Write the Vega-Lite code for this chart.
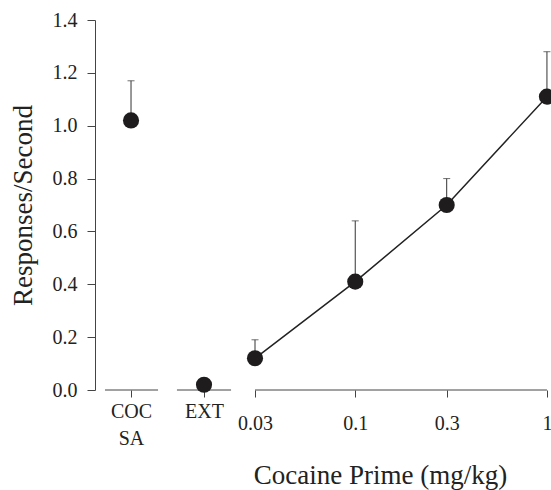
{
  "$schema": "https://vega.github.io/schema/vega-lite/v6.json",
  "width": 456,
  "height": 370,
  "autosize": {"type": "none"},
  "padding": {"left": 95, "top": 20, "right": 0, "bottom": 100},
  "background": "white",
  "config": {
    "view": {"stroke": null},
    "font": "Liberation Serif",
    "axis": {"grid": false, "labelFont": "Liberation Serif", "titleFont": "Liberation Serif", "labelColor": "#222", "titleColor": "#222", "domainColor": "#444", "tickColor": "#444", "titleFontWeight": "normal"}
  },
  "datasets": {
    "pts": [
      {"cond": "COC SA", "x": 0.006767, "y": 1.02, "upper": 1.17},
      {"cond": "EXT", "x": 0.01626, "y": 0.02},
      {"cond": "0.03", "x": 0.03, "y": 0.12, "upper": 0.19},
      {"cond": "0.1", "x": 0.1, "y": 0.41, "upper": 0.64},
      {"cond": "0.3", "x": 0.3, "y": 0.70, "upper": 0.80},
      {"cond": "1", "x": 1, "y": 1.11, "upper": 1.28}
    ],
    "segs": [
      {"x": 0.00495, "x2": 0.00936},
      {"x": 0.01175, "x2": 0.0225},
      {"x": 0.03, "x2": 1}
    ]
  },
  "resolve": {"axis": {"x": "independent"}},
  "layer": [
    {
      "data": {"name": "segs"},
      "mark": {"type": "rule", "color": "#444", "strokeWidth": 1},
      "encoding": {
        "x": {"field": "x", "type": "quantitative", "scale": {"type": "log", "domain": [0.00439, 1.05], "nice": false},
          "axis": {"orient": "bottom", "domain": false, "values": [0.006767, 0.01626], "tickSize": 7, "labelFontSize": 20, "labelPadding": 4, "labelLineHeight": 27,
            "labelExpr": "datum.value < 0.01 ? ['COC', 'SA'] : 'EXT'",
            "title": "Cocaine Prime (mg/kg)", "titleFontSize": 27, "titleX": 285, "titleY": 93, "titleBaseline": "alphabetic", "titleAnchor": null}},
        "x2": {"field": "x2"},
        "y": {"datum": 0, "type": "quantitative", "scale": {"domain": [0, 1.4], "nice": false},
          "axis": {"values": [0, 0.2, 0.4, 0.6, 0.8, 1.0, 1.2, 1.4], "format": ".1f", "tickSize": 8, "labelFontSize": 20, "labelPadding": 10,
            "title": "Responses/Second", "titleFontSize": 27, "titleX": -72, "titleY": 185, "titleAngle": -90, "titleAlign": "center", "titleBaseline": "middle"}}
      }
    },
    {
      "data": {"name": "pts"},
      "transform": [{"filter": "datum.x >= 0.03"}],
      "mark": {"type": "line", "color": "#222", "strokeWidth": 1.5},
      "encoding": {
        "x": {"field": "x", "type": "quantitative",
          "axis": {"orient": "bottom", "domain": false, "values": [0.03, 0.1, 0.3, 1], "tickSize": 7, "labelFontSize": 20, "labelPadding": 16,
            "labelExpr": "format(datum.value, '~g')", "title": null}},
        "y": {"field": "y", "type": "quantitative"}
      }
    },
    {
      "data": {"name": "pts"},
      "transform": [{"filter": "isValid(datum.upper)"}],
      "mark": {"type": "rule", "color": "#333", "strokeWidth": 1},
      "encoding": {
        "x": {"field": "x", "type": "quantitative", "axis": null},
        "y": {"field": "y", "type": "quantitative"},
        "y2": {"field": "upper"}
      }
    },
    {
      "data": {"name": "pts"},
      "transform": [{"filter": "isValid(datum.upper)"}],
      "mark": {"type": "tick", "orient": "horizontal", "color": "#333", "size": 7, "thickness": 1},
      "encoding": {
        "x": {"field": "x", "type": "quantitative", "axis": null},
        "y": {"field": "upper", "type": "quantitative"}
      }
    },
    {
      "data": {"name": "pts"},
      "mark": {"type": "point", "filled": true, "color": "#1e1c1d", "opacity": 1, "size": 260},
      "encoding": {
        "x": {"field": "x", "type": "quantitative", "axis": null},
        "y": {"field": "y", "type": "quantitative"}
      }
    }
  ]
}
